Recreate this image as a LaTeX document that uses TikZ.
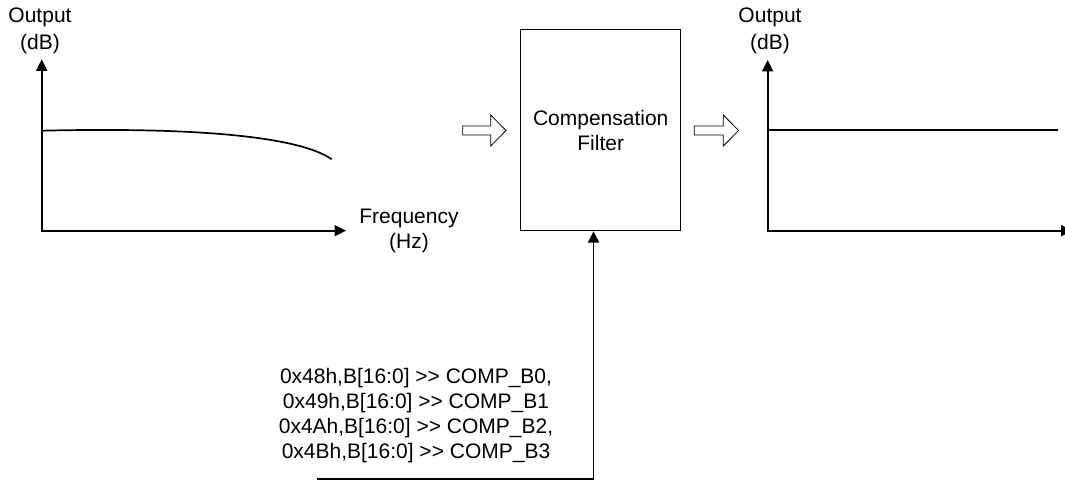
\documentclass[tikz,border=0pt]{standalone}
\usepackage{fontspec}
\setmainfont{Liberation Sans}
\usetikzlibrary{arrows.meta}
\begin{document}
\begin{tikzpicture}[x=1pt,y=-1pt,
  lbl/.style={font=\fontsize{21}{24.7}\selectfont, align=center, inner sep=0pt},
  axlbl/.style={font=\fontsize{21}{27}\selectfont, align=center, inner sep=0pt},
  tri/.tip={Triangle[length=11.5pt,width=11pt]},
  axisline/.style={line width=1.8pt},
  curveline/.style={line width=1.7pt},
  blockarrow/.style={draw, line width=0.8pt, fill=white},
  filterbox/.style={draw, line width=1pt, minimum width=160pt, minimum height=200.7pt, inner sep=0pt}]
\useasboundingbox (0,0) rectangle (1065,481);
\clip (0,0) rectangle (1065,481);

% left plot
\coordinate (oL) at (41.7,230.7);
\coordinate (yL) at (41.7,59.3);
\coordinate (xL) at (346,230.7);
\draw[axisline, tri-tri] (yL) -- (oL) -- (xL);
\coordinate (cL0) at (41.7,130.7);
\coordinate (cL1) at (331.7,159.3);
\draw[curveline] (cL0) .. controls (200,127) and (300,137) .. (cL1);
\node[axlbl] (outL) at (40,30.9) {Output\\(dB)};
\node[lbl] (freq) at (409,231) {Frequency\\(Hz)};

% block arrows
\draw[blockarrow] (462.7,126) -- (490.7,126) -- (490.7,115) -- (506,130.5) -- (490.7,146) -- (490.7,135) -- (462.7,135) -- cycle;
\draw[blockarrow] (694.3,126) -- (723.3,126) -- (723.3,115) -- (738.6,130.5) -- (723.3,146) -- (723.3,135) -- (694.3,135) -- cycle;

% filter
\node[filterbox, lbl, draw] (filt) at (600.7,130.35) {Compensation\\Filter};

% right plot
\coordinate (oR) at (767.7,230.7);
\coordinate (yR) at (767.7,60);
\coordinate (xR) at (1072.5,230.7);
\draw[axisline, tri-tri] (yR) -- (oR) -- (xR);
\coordinate (hR0) at (767.7,130);
\coordinate (hR1) at (1058.3,130);
\draw[curveline] (hR0) -- (hR1);
\node[axlbl] (outR) at (770,30.9) {Output\\(dB)};

% register text and connector
\node[lbl, font=\fontsize{21}{25}\selectfont] (regs) at (416,416) {0x48h,B[16:0] {>}{>} COMP\_B0,\\0x49h,B[16:0] {>}{>} COMP\_B1\\0x4Ah,B[16:0] {>}{>} COMP\_B2,\\0x4Bh,B[16:0] {>}{>} COMP\_B3};
\coordinate (cstart) at (317,479);
\coordinate (fin) at ([xshift=-7.2pt]filt.south);
\draw[axisline, -tri] (cstart) -| (fin);
\end{tikzpicture}
\end{document}
